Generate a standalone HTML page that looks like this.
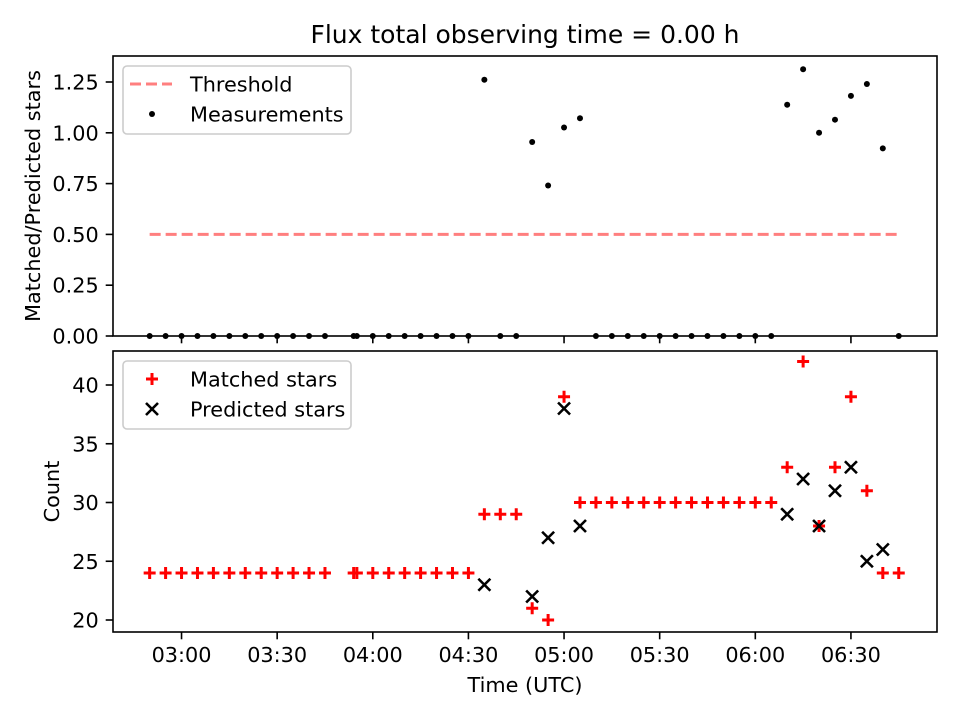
<!DOCTYPE html>
<html><head><meta charset="utf-8">
<style>
body{margin:0;background:#fff;}
svg text{font-family:"DejaVu Sans","Liberation Sans",sans-serif;fill:#000;}
</style></head>
<body>
<svg id="chart" width="960" height="720" xmlns="http://www.w3.org/2000/svg"></svg>
<script>
// ---- data ----
const times = ["02:50","02:55","03:00","03:05","03:10","03:15","03:20","03:25","03:30","03:35","03:40","03:45",
"03:54","03:55","04:00","04:05","04:10","04:15","04:20","04:25","04:30","04:35","04:40","04:45","04:50","04:55",
"05:00","05:05","05:10","05:15","05:20","05:25","05:30","05:35","05:40","05:45","05:50","05:55","06:00","06:05",
"06:10","06:15","06:20","06:25","06:30","06:35","06:40","06:45"];
const matched = [24,24,24,24,24,24,24,24,24,24,24,24,
24,24,24,24,24,24,24,24,24,29,29,29,21,20,
39,30,30,30,30,30,30,30,30,30,30,30,30,30,
33,42,28,33,39,31,24,24];
const predicted = [null,null,null,null,null,null,null,null,null,null,null,null,
null,null,null,null,null,null,null,null,null,23,null,null,22,27,
38,28,null,null,null,null,null,null,null,null,null,null,null,null,
29,32,28,31,33,25,26,null];
const threshold = 0.5;
const topTicks = [0,0.25,0.5,0.75,1.0,1.25];
const botTicks = [20,25,30,35,40];
const xTickLabels = ["03:00","03:30","04:00","04:30","05:00","05:30","06:00","06:30"];

const NS="http://www.w3.org/2000/svg";
const svg=document.getElementById('chart');
function el(tag,attrs,parent){const e=document.createElementNS(NS,tag);for(const k in attrs)e.setAttribute(k,attrs[k]);(parent||svg).appendChild(e);return e;}
function mins(t){const p=t.split(':');return +p[0]*60+ +p[1];}
const L=113,R=937;
const xMin=158.5,xMax=417.0;
function X(t){return L+(mins(t)-xMin)/(xMax-xMin)*(R-L);}
const T1=56,B1=336,T2=351,B2=632;
function Y1(v){return 336-v*203.2;}
function Y2(v){return 620-(v-20)*11.75;}
const FS=20.8, TL=7.3;

let t=el('text',{x:525,y:43,'text-anchor':'middle','font-size':'25'});t.textContent='Flux total observing time = 0.00 h';


function axes(top,bot,ticks,Y,fmt,name,label,ly){
  const g=el('g',{});
  
  ticks.forEach(v=>{const y=Y(v);
    el('line',{x1:L-TL,x2:L,y1:y,y2:y,stroke:'#000','stroke-width':1.6},g);
    const tx=el('text',{x:L-TL-7,y:y+7.5,'text-anchor':'end','font-size':FS},g);tx.textContent=fmt(v);
    
  });
  xTickLabels.forEach(s=>{const x=X(s);el('line',{x1:x,x2:x,y1:bot,y2:bot+TL,stroke:'#000','stroke-width':1.6},g);});
  const yl=el('text',{transform:`translate(${ly},${(top+bot)/2}) rotate(-90)`,'text-anchor':'middle','font-size':FS},g);
  yl.textContent=label;
  return g;
}
axes(T1,B1,topTicks,Y1,v=>v.toFixed(2),'top-axes','Matched/Predicted stars',40);
axes(T2,B2,botTicks,Y2,v=>String(v),'bottom-axes','Count',59);
xTickLabels.forEach(s=>{const tx=el('text',{x:X(s),y:662,'text-anchor':'middle','font-size':FS});tx.textContent=s;
  });
t=el('text',{x:525,y:692,'text-anchor':'middle','font-size':FS});t.textContent='Time (UTC)';


const th=el('line',{x1:X(times[0]),x2:X(times[times.length-1]),y1:Y1(threshold),y2:Y1(threshold),stroke:'#ff7f7f','stroke-width':3,'stroke-dasharray':'11,5'});

times.forEach((s,i)=>{const r=predicted[i]?matched[i]/predicted[i]:0;
  const c=el('circle',{cx:X(s),cy:Y1(r),r:3,fill:'#000'});
  });
times.forEach((s,i)=>{const x=X(s),y=Y2(matched[i]);
  const p=el('path',{d:`M${x-6},${y}H${x+6}M${x},${y-6}V${y+6}`,stroke:'#f00','stroke-width':3});
  });
times.forEach((s,i)=>{if(predicted[i]==null)return;const x=X(s),y=Y2(predicted[i]);
  const p=el('path',{d:`M${x-6},${y-6}L${x+6},${y+6}M${x-6},${y+6}L${x+6},${y-6}`,stroke:'#000','stroke-width':2.6});
  });

let f=el('rect',{x:L,y:T1,width:R-L,height:B1-T1,fill:'none',stroke:'#000','stroke-width':1.6});

f=el('rect',{x:L,y:T2,width:R-L,height:B2-T2,fill:'none',stroke:'#000','stroke-width':1.6});


function legend(y0,name,items){
  const g=el('g',{});
  el('rect',{x:123,y:y0,width:228,height:68,rx:4,fill:'#fff','fill-opacity':0.8,stroke:'#ccc','stroke-width':1.6},g);
  items.forEach((it,i)=>{const y=y0+18+i*30;
    it.draw(g,152,y);
    const tx=el('text',{x:190,y:y+7.5,'font-size':FS},g);tx.textContent=it.label;
    });
}
legend(66,'top-legend',[
 {label:'Threshold',draw:(g,x,y)=>el('line',{x1:x-22,x2:x+20,y1:y,y2:y,stroke:'#ff7f7f','stroke-width':3,'stroke-dasharray':'11,5'},g)},
 {label:'Measurements',draw:(g,x,y)=>el('circle',{cx:x,cy:y,r:3,fill:'#000'},g)}]);
legend(361,'bottom-legend',[
 {label:'Matched stars',draw:(g,x,y)=>el('path',{d:`M${x-6},${y}H${x+6}M${x},${y-6}V${y+6}`,stroke:'#f00','stroke-width':3},g)},
 {label:'Predicted stars',draw:(g,x,y)=>el('path',{d:`M${x-6},${y-6}L${x+6},${y+6}M${x-6},${y+6}L${x+6},${y-6}`,stroke:'#000','stroke-width':2.6},g)}]);
</script>
</body></html>
